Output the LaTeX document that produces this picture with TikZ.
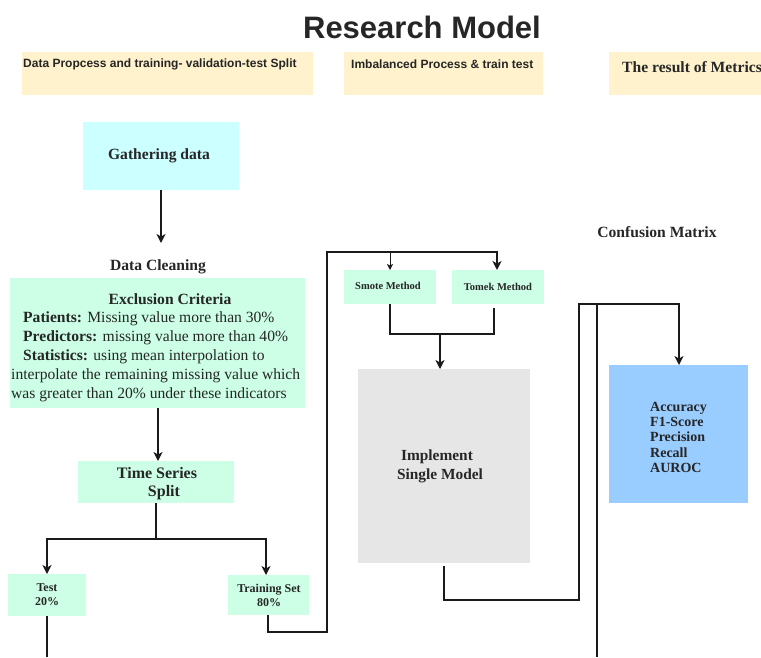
\documentclass[tikz,border=0pt]{standalone}
\usepackage{fontspec}
\setmainfont{Liberation Serif}
\setsansfont{Liberation Sans}
\usetikzlibrary{arrows.meta}
\definecolor{hdr}{HTML}{FFF2CC}
\definecolor{cyanbox}{HTML}{CCFFFF}
\definecolor{mint}{HTML}{CCFFE6}
\definecolor{graybox}{HTML}{E6E6E6}
\definecolor{bluebox}{HTML}{99CCFF}
\definecolor{ln}{HTML}{1A1A1A}
\tikzset{
  box/.style={draw=none, inner sep=0pt, rectangle},
  conn/.style={draw=ln, line width=1.6pt},
  arr/.style={conn, -{Stealth[length=9pt,width=9pt,inset=2.5pt]}},
  thinarr/.style={draw=ln, line width=1pt, -{Stealth[length=6pt,width=6pt,inset=1.5pt]}},
  txt/.style={inner sep=0pt, text=black!85},
}
\begin{document}
\begin{tikzpicture}[x=1pt,y=-1pt]
\useasboundingbox (0,0) rectangle (761,657);
% title
\node[txt, font=\sffamily\bfseries\fontsize{31}{34}\selectfont] (title) at (422,27) {Research Model};
% header bars
\node[box, fill=hdr, minimum width=291pt, minimum height=43pt, anchor=north west] (h1) at (22,52) {};
\node[txt, anchor=west, font=\sffamily\bfseries\fontsize{12}{14}\selectfont] (h1t) at (23,64) {Data Propcess and training- validation-test Split};
\node[box, fill=hdr, minimum width=199pt, minimum height=43pt, anchor=north west] (h2) at (344,52) {};
\node[txt, anchor=west, font=\sffamily\bfseries\fontsize{12}{14}\selectfont] (h2t) at (351,64) {Imbalanced Process \& train test};
\node[box, fill=hdr, minimum width=152pt, minimum height=43pt, anchor=north west] (h3) at (609,52) {};
\node[txt, anchor=west, font=\bfseries\fontsize{15.6}{18}\selectfont] (h3t) at (622,67) {The result of Metrics};
% gathering
\node[box, fill=cyanbox, minimum width=156pt, minimum height=68pt, anchor=north west] (gather) at (83,122) {};
\node[txt, font=\bfseries\fontsize{15.6}{18}\selectfont] (gathert) at (159,156) {Gathering data};
\coordinate (dcin) at (161,243);
\draw[arr] (gather.south -| 161,0) -- (dcin);
\node[txt, font=\bfseries\fontsize{15.6}{18}\selectfont] (dclean) at (158,267) {Data Cleaning};
% exclusion
\node[box, fill=mint, minimum width=295pt, minimum height=130pt, anchor=north west] (excl) at (10,278) {};
\node[txt, font=\bfseries\fontsize{15.6}{18}\selectfont] (exclt) at (170,299) {Exclusion Criteria};
\node[txt, anchor=north west, align=left, font=\fontsize{15.6}{19.2}\selectfont] (excltext) at (11,311)
 {\hspace*{12pt}\textbf{Patients:} Missing value more than 30\%\\
  \hspace*{12pt}\textbf{Predictors:} missing value more than 40\%\\
  \hspace*{12pt}\textbf{Statistics:} using mean interpolation to\\
  interpolate the remaining missing value which\\
  was greater than 20\% under these indicators};
% time series split
\node[box, fill=mint, minimum width=156pt, minimum height=42pt, anchor=north west] (tss) at (78,461) {};
\node[txt, align=center, font=\bfseries\fontsize{16}{18}\selectfont] (tsst) at (157,484) {Time Series\\\hspace*{14pt}Split};
\draw[arr] (excl.south -| 158,0) -- (tss.north -| 158,0);
% test / training
\node[box, fill=mint, minimum width=78pt, minimum height=42pt, anchor=north west] (test) at (8,574) {};
\node[txt, align=center, font=\bfseries\fontsize{12}{14}\selectfont] (testt) at (47,595) {Test\\20\%};
\node[box, fill=mint, minimum width=81pt, minimum height=40pt, anchor=north west] (train) at (228,575) {};
\node[txt, align=center, font=\bfseries\fontsize{12}{14}\selectfont] (traint) at (269,595) {Training Set\\80\%};
\coordinate (split) at (156,539);
\draw[conn] (tss.south -| split) -- (split);
\draw[arr] (split) -| (test.north -| 47,0);
\draw[arr] (split) -| (train.north -| 266,0);
\coordinate (testout) at (47,657);
\draw[conn] (test.south -| 47,0) -- (testout);
% imbalance
\node[box, fill=mint, minimum width=92pt, minimum height=34pt, anchor=north west] (smote) at (344,270) {};
\node[txt, font=\bfseries\fontsize{10.5}{12}\selectfont] (smotet) at (388,286) {Smote Method};
\node[box, fill=mint, minimum width=92pt, minimum height=34pt, anchor=north west] (tomek) at (452,270) {};
\node[txt, font=\bfseries\fontsize{10.5}{12}\selectfont] (tomekt) at (498,287) {Tomek Method};
\coordinate (trdn) at (268,632);
\coordinate (up1) at (327,632);
\coordinate (top1) at (327,252);
\coordinate (smbr) at (390,252);
\draw[arr] (train.south -| 268,0) -- (trdn) -- (up1) -- (top1) -| (tomek.north -| 497,0);
\draw[thinarr] (smbr) -- (smote.north -| 390,0);
% implement
\node[box, fill=graybox, minimum width=172pt, minimum height=194pt, anchor=north west] (impl) at (358,369) {};
\node[txt, align=center, font=\bfseries\fontsize{15.4}{19}\selectfont] (implt) at (437,466) {Implement\\\hspace*{6pt}Single Model};
\coordinate (merge) at (440,334);
\draw[conn] (smote.south -| 390,0) |- (merge);
\draw[conn] (tomek.south -| 494,0) ++(0,4) |- (merge);
\draw[arr] (merge) -- (impl.north -| 440,0);
% metrics
\node[txt, font=\bfseries\fontsize{15.6}{18}\selectfont] (cm) at (657,232) {Confusion Matrix};
\node[box, fill=bluebox, minimum width=139pt, minimum height=138pt, anchor=north west] (metrics) at (609,365) {};
\node[txt, anchor=north west, align=left, font=\bfseries\fontsize{14}{15.2}\selectfont] (metricst) at (650,402)
 {Accuracy\\F1-Score\\Precision\\Recall\\AUROC};
\coordinate (imdn) at (444,600);
\coordinate (up2) at (579,600);
\coordinate (top2) at (579,304);
\draw[arr] (impl.south -| 444,0) ++(0,3) -- (imdn) -- (up2) -- (top2) -| (metrics.north -| 679,0);
\coordinate (testin) at (597,657);
\coordinate (testtop) at (597,304);
\draw[conn] (testin) -- (testtop);
\end{tikzpicture}
\end{document}
